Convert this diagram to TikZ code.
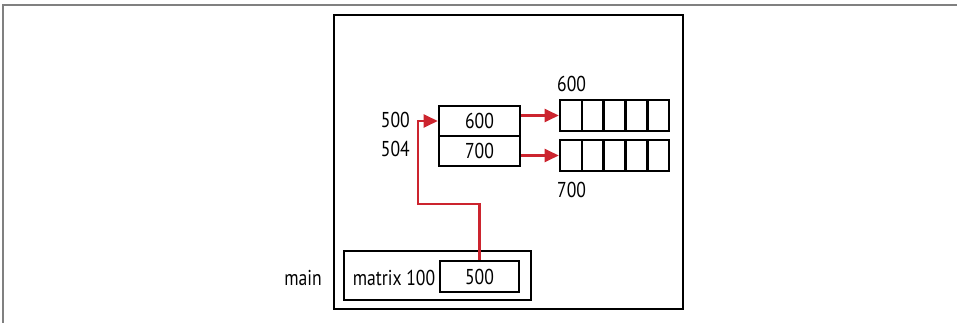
\documentclass[tikz,border=0pt]{standalone}
\usepackage{fontspec}
\setmainfont{PT Sans}[FakeStretch=0.82]
\usetikzlibrary{arrows.meta, positioning}
\definecolor{ptrred}{RGB}{204,36,46}

\begin{document}
\begin{tikzpicture}[x=1pt, y=-1pt,
        box/.style={rectangle, draw=black, line width=2.6pt,
                    minimum width=81pt, minimum height=30pt,
                    inner sep=0pt, font=\fontsize{21.5}{25}\selectfont},
        cell/.style={rectangle, draw=black, line width=2.6pt,
                     minimum width=21.8pt, minimum height=31pt, inner sep=0pt},
        lbl/.style={inner sep=0pt, font=\fontsize{21.5}{25}\selectfont},
        arrow/.style={-{Triangle[length=14pt, width=13pt]}, draw=ptrred, line width=2.3pt},
    ]
    \useasboundingbox (0,0) rectangle (957,323);

    % page edge
    \draw[gray, line width=1.5pt] (957,5) -- (3,5) -- (3,323);

    % memory frame
    \node[rectangle, draw=black, line width=2.6pt, minimum width=349pt,
          minimum height=294pt] (mem) at (508.5,162) {};

    % row pointers
    \node[box] (rowA) at (479.5,121) {600};
    \node[box] (rowB) at (479.5,151) {700};
    \node[lbl, anchor=base east] (addrA) at (410,128) {500};
    \node[lbl, anchor=base east] (addrB) at (410,157) {504};

    % rows
    \foreach \i in {1,...,5} {
        \node[cell] (arrA-\i) at ({560+21.8*(\i-0.5)},115.5) {};
        \node[cell] (arrB-\i) at ({560+21.8*(\i-0.5)},155.5) {};
    }
    \node[lbl, anchor=base west] (lblA) at (557,92) {600};
    \node[lbl, anchor=base west] (lblB) at (557,197) {700};

    % main frame
    \node[rectangle, draw=black, line width=2.6pt, minimum width=187pt,
          minimum height=49pt] (frm) at (437.5,275.5) {};
    \node[box, minimum width=79pt, minimum height=31pt] (val) at (479.5,276.5) {500};
    \node[lbl, anchor=base] (var) at (394,285) {matrix 100};
    \node[lbl, anchor=base] (fn) at (303,285) {main};

    % arrows
    \coordinate (bend) at (418,204);
    \draw[arrow] (val.north) |- (bend) |- (rowA.west);
    \draw[arrow] (rowA.east |- arrA-1.west) -- (arrA-1.west);
    \draw[arrow] (rowB.east |- arrB-1.west) -- (arrB-1.west);

\end{tikzpicture}
\end{document}
